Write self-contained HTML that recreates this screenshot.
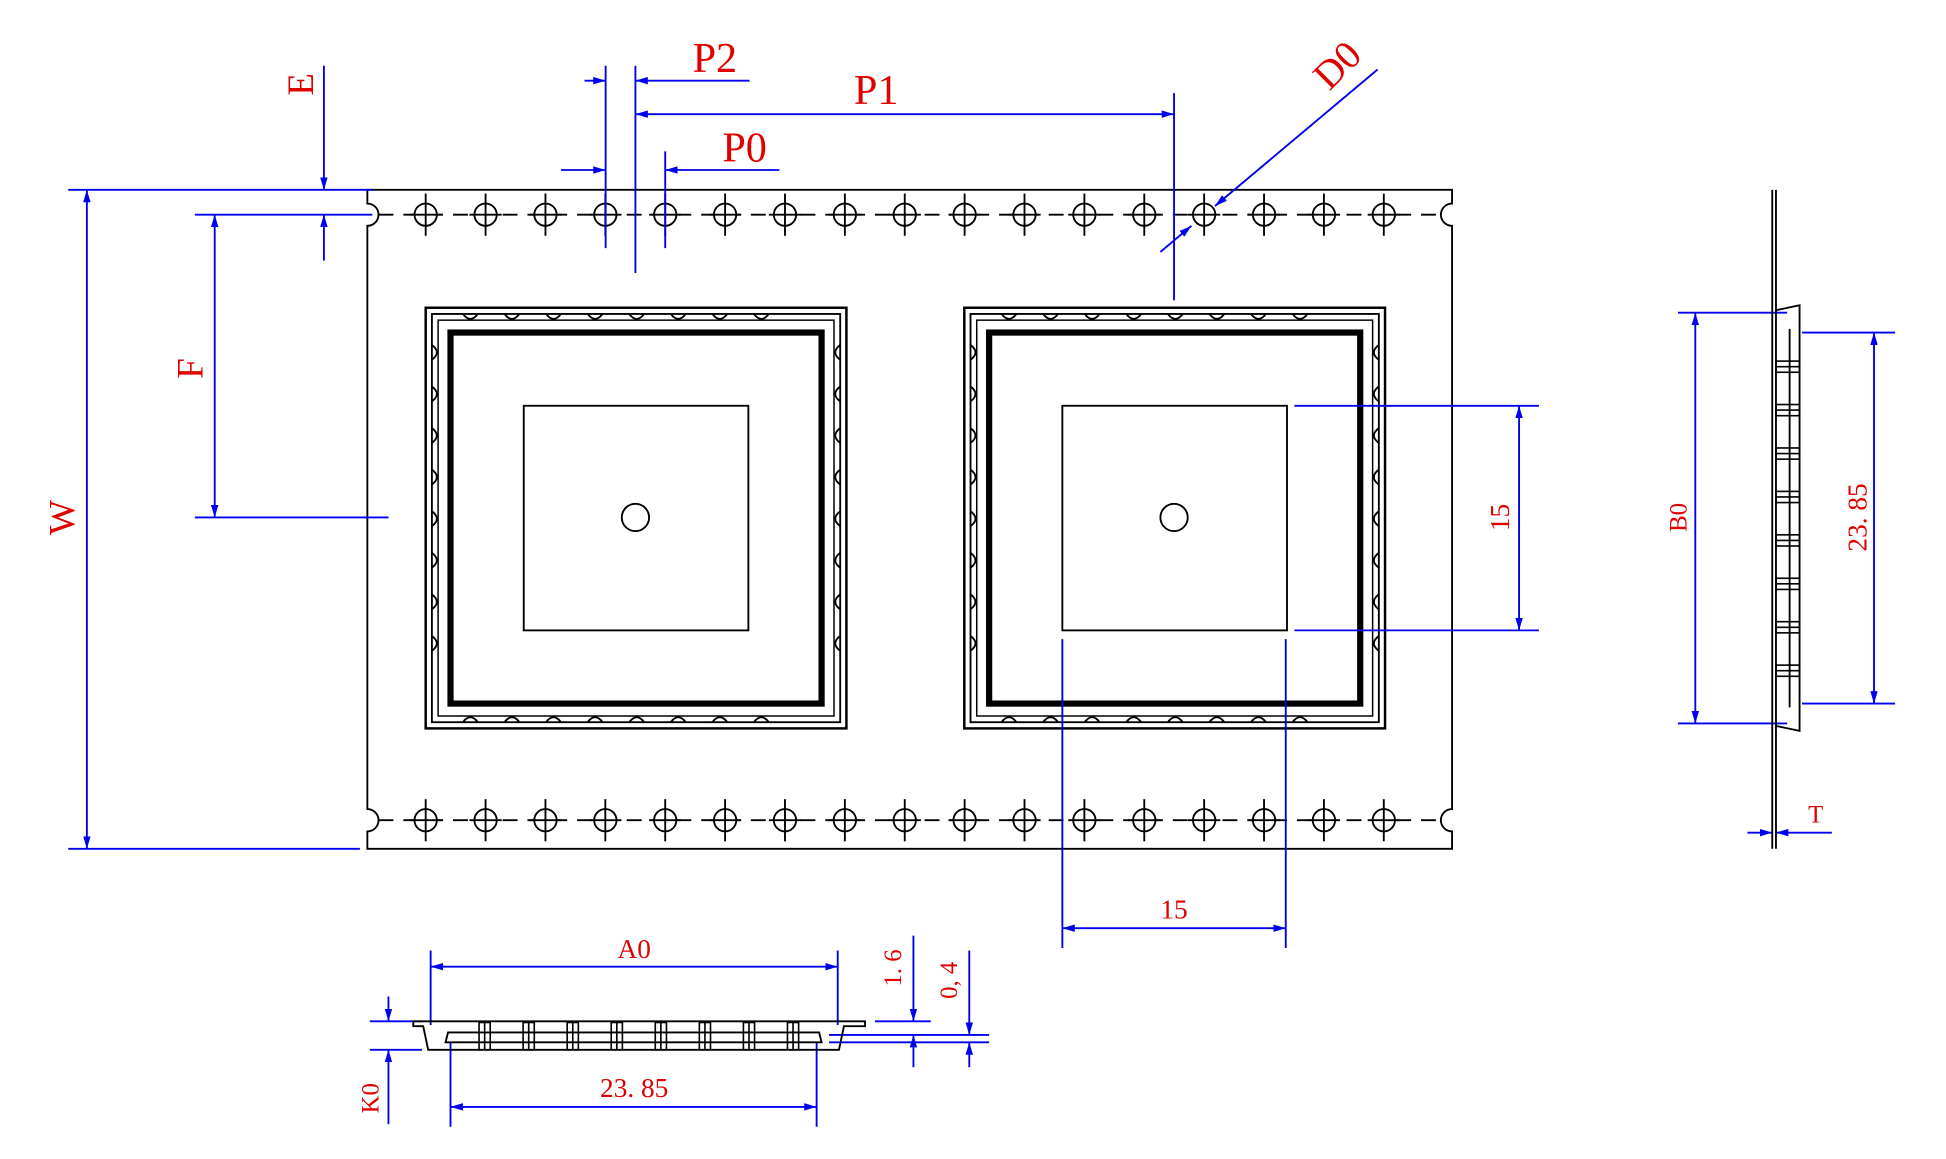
<!DOCTYPE html>
<html><head><meta charset="utf-8"><style>
html,body{margin:0;padding:0;background:#fff;}
svg{display:block;}
text{font-family:"Liberation Sans Narrow","Liberation Serif",serif;fill:#e00000;}
</style></head><body>
<svg id="s" width="1946" height="1159" viewBox="0 0 1568 934" preserveAspectRatio="none" xmlns="http://www.w3.org/2000/svg">
<defs>
<marker id="a" viewBox="0 0 10 6" refX="10" refY="3" markerWidth="10" markerHeight="6" orient="auto-start-reverse" markerUnits="userSpaceOnUse"><path d="M0,0 L10,3 L0,6 z" fill="#0000ee"/></marker>
</defs>
<g id="blk" fill="none" stroke="#000" stroke-width="1.5">
<path d="M296,153 H1170 V164 A9,9 0 0 0 1170,182 V652 A9,9 0 0 0 1170,670 V684 H296 V670 A9,9 0 0 0 296,652 V182 A9,9 0 0 0 296,164 Z"/>
<line x1="305" y1="173" x2="1162" y2="173" stroke-dasharray="12,8"/>
<line x1="305" y1="661" x2="1162" y2="661" stroke-dasharray="12,8"/>
</g>
<g id="pk" fill="none" stroke="#000"></g>
<g fill="none" stroke="#0000ee" stroke-width="1.5">
<line x1="55" y1="153" x2="300" y2="153"/><line x1="55" y1="684" x2="290" y2="684"/>
<line x1="70" y1="153" x2="70" y2="684" marker-start="url(#a)" marker-end="url(#a)"/>
<line x1="157" y1="173" x2="300" y2="173"/><line x1="157" y1="417" x2="313" y2="417"/>
<line x1="173" y1="173" x2="173" y2="417" marker-start="url(#a)" marker-end="url(#a)"/>
<line x1="261" y1="53" x2="261" y2="153" marker-end="url(#a)"/>
<line x1="261" y1="210" x2="261" y2="173" marker-end="url(#a)"/>
<line x1="488" y1="53" x2="488" y2="200"/><line x1="512" y1="53" x2="512" y2="220"/>
<line x1="471" y1="65" x2="488" y2="65" marker-end="url(#a)"/>
<line x1="604" y1="65" x2="512" y2="65" marker-end="url(#a)"/>
<line x1="512" y1="92" x2="946" y2="92" marker-start="url(#a)" marker-end="url(#a)"/>
<line x1="946" y1="75" x2="946" y2="242"/>
<line x1="452" y1="137" x2="488" y2="137" marker-end="url(#a)"/>
<line x1="628" y1="137" x2="536" y2="137" marker-end="url(#a)"/>
<line x1="536" y1="122" x2="536" y2="200"/>
<line x1="1110" y1="56" x2="979" y2="166" marker-end="url(#a)"/>
<line x1="935" y1="203" x2="960" y2="182" marker-end="url(#a)"/>
<line x1="1043" y1="327" x2="1240" y2="327"/><line x1="1043" y1="508" x2="1240" y2="508"/>
<line x1="1224" y1="327" x2="1224" y2="508" marker-start="url(#a)" marker-end="url(#a)"/>
<line x1="856" y1="515" x2="856" y2="764"/><line x1="1036" y1="515" x2="1036" y2="764"/>
<line x1="856" y1="748" x2="1036" y2="748" marker-start="url(#a)" marker-end="url(#a)"/>
<line x1="1352" y1="252" x2="1440" y2="252"/><line x1="1352" y1="583" x2="1440" y2="583"/>
<line x1="1366" y1="252" x2="1366" y2="583" marker-start="url(#a)" marker-end="url(#a)"/>
<line x1="1452" y1="268" x2="1527" y2="268"/><line x1="1452" y1="567" x2="1527" y2="567"/>
<line x1="1510" y1="268" x2="1510" y2="567" marker-start="url(#a)" marker-end="url(#a)"/>
<line x1="1408" y1="671" x2="1428" y2="671" marker-end="url(#a)"/>
<line x1="1476" y1="671" x2="1431" y2="671" marker-end="url(#a)"/>
<line x1="347" y1="766" x2="347" y2="826"/><line x1="675" y1="766" x2="675" y2="826"/>
<line x1="347" y1="779" x2="675" y2="779" marker-start="url(#a)" marker-end="url(#a)"/>
<line x1="363" y1="840" x2="363" y2="908"/><line x1="658" y1="840" x2="658" y2="908"/>
<line x1="363" y1="892" x2="658" y2="892" marker-start="url(#a)" marker-end="url(#a)"/>
<line x1="298" y1="823" x2="340" y2="823"/><line x1="298" y1="846" x2="340" y2="846"/>
<line x1="313" y1="803" x2="313" y2="823" marker-end="url(#a)"/>
<line x1="313" y1="906" x2="313" y2="846" marker-end="url(#a)"/>
<line x1="705" y1="823" x2="750" y2="823"/>
<line x1="736" y1="754" x2="736" y2="823" marker-end="url(#a)"/>
<line x1="736" y1="860" x2="736" y2="834" marker-end="url(#a)"/>
<line x1="668" y1="834" x2="797" y2="834"/><line x1="668" y1="840" x2="797" y2="840"/>
<line x1="781" y1="766" x2="781" y2="834" marker-end="url(#a)"/>
<line x1="781" y1="860" x2="781" y2="840" marker-end="url(#a)"/>
</g>
<g fill="none" stroke="#000" stroke-width="1.5">
<line x1="1428" y1="153" x2="1428" y2="684"/><line x1="1431" y1="153" x2="1431" y2="684"/>
<path d="M1431,250 L1450,246 V589 L1431,585"/>
<path d="M1442,265 V570"/>
<path d="M333,823 H697 V827 H680 L676,846 H345 L341,827 H333 Z"/>
<path d="M359,840 L361,832 H660 L662,840 Z"/>
</g>
<g id="ribs" fill="none" stroke="#000" stroke-width="1.3"></g>
<g font-size="30">
<text x="576" y="58" text-anchor="middle" font-size="34">P2</text>
<text x="706" y="84" text-anchor="middle" font-size="34">P1</text>
<text x="600" y="130" text-anchor="middle" font-size="34">P0</text>
<text transform="translate(1085,60) rotate(-45)" text-anchor="middle" font-size="32">D0</text>
<text transform="translate(252,68) rotate(-90)" text-anchor="middle">E</text>
<text transform="translate(163,297) rotate(-90)" text-anchor="middle">F</text>
<text transform="translate(60,417) rotate(-90)" text-anchor="middle">W</text>
<text transform="translate(1216,417) rotate(-90)" text-anchor="middle" font-size="22">15</text>
<text x="946" y="740" text-anchor="middle" font-size="22">15</text>
<text transform="translate(1359,417) rotate(-90)" text-anchor="middle" font-size="20">B0</text>
<text transform="translate(1504,417) rotate(-90)" text-anchor="middle" font-size="22">23. 85</text>
<text x="1463" y="663" text-anchor="middle" font-size="20">T</text>
<text x="511" y="772" text-anchor="middle" font-size="22">A0</text>
<text x="511" y="884" text-anchor="middle" font-size="22">23. 85</text>
<text transform="translate(305,885) rotate(-90)" text-anchor="middle" font-size="20">K0</text>
<text transform="translate(726,780) rotate(-90)" text-anchor="middle" font-size="20">1. 6</text>
<text transform="translate(771,790) rotate(-90)" text-anchor="middle" font-size="20">0, 4</text>
</g>
</svg>
<script>
var NS="http://www.w3.org/2000/svg";
function el(p,t,a){var e=document.createElementNS(NS,t);for(var k in a)e.setAttribute(k,a[k]);p.appendChild(e);return e;}
var b=document.getElementById("blk"),pk=document.getElementById("pk"),rb=document.getElementById("ribs");
for(var i=0;i<17;i++){var x=343+i*48.25;[173,661].forEach(function(y){
el(b,"circle",{cx:x,cy:y,r:9,fill:"#fff"});
el(b,"line",{x1:x,y1:y-17,x2:x,y2:y+17});
el(b,"line",{x1:x-13,y1:y,x2:x+13,y2:y});});}
[343,777].forEach(function(x0){
el(pk,"rect",{x:x0,y:248,width:339,height:339,"stroke-width":2});
el(pk,"rect",{x:x0+5,y:253,width:329,height:329,"stroke-width":1.5});
el(pk,"rect",{x:x0+10,y:258,width:319,height:319,"stroke-width":1.2});
el(pk,"rect",{x:x0+20,y:268,width:299,height:299,"stroke-width":5});
el(pk,"rect",{x:x0+79,y:327,width:181,height:181,"stroke-width":1.5});
el(pk,"circle",{cx:x0+169,cy:417,r:11,"stroke-width":1.5});
for(var j=0;j<8;j++){var o=36+j*33.5;
el(pk,"path",{d:"M"+(x0+o-6)+",253 q6,8 12,0","stroke-width":1.5});
el(pk,"path",{d:"M"+(x0+o-6)+",582 q6,-8 12,0","stroke-width":1.5});
el(pk,"path",{d:"M"+(x0+5)+","+(248+o-6)+" q8,6 0,12","stroke-width":1.5});
el(pk,"path",{d:"M"+(x0+334)+","+(248+o-6)+" q-8,6 0,12","stroke-width":1.5});}
});
for(var k=0;k<8;k++){var x=386+k*35.5;
el(rb,"rect",{x:x,y:824,width:9,height:22});el(rb,"line",{x1:x+4.5,y1:824,x2:x+4.5,y2:846});
var y=291+k*35;
el(rb,"rect",{x:1431,y:y,width:19,height:9});el(rb,"line",{x1:1431,y1:y+4.5,x2:1450,y2:y+4.5});}
</script>
</body></html>
